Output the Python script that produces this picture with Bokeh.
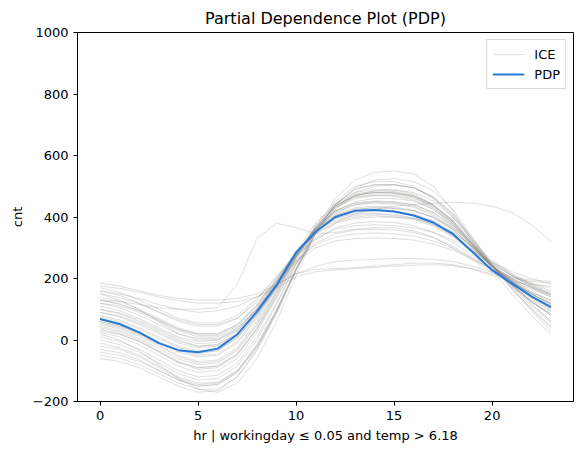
from bokeh.plotting import figure
from bokeh.models import FixedTicker, Range1d, Legend, LegendItem
from bokeh.embed import file_html
from bokeh.resources import INLINE

hours = list(range(24))

pdp = [68, 52, 25, -10, -33, -40, -28, 18, 92, 178, 285, 352, 400, 420, 423, 418, 405, 382, 345, 286, 227, 184, 142, 107]

ice_curves = [
    [20, 0, -35, -80, -125, -160, -170, -140, -60, 60, 210, 350, 450, 500, 515, 515, 500, 460, 400, 320, 240, 180, 120, 60],
    [-50, -60, -80, -110, -140, -160, -160, -120, -30, 90, 230, 360, 460, 520, 545, 550, 540, 500, 420, 320, 230, 150, 80, 20],
    [150, 130, 100, 60, 20, 0, 0, 30, 100, 180, 270, 350, 400, 420, 425, 420, 405, 380, 340, 290, 240, 200, 170, 140],
    [185, 175, 160, 145, 135, 130, 130, 135, 150, 180, 215, 240, 255, 260, 262, 265, 265, 262, 255, 240, 220, 205, 195, 190],
    [130, 125, 115, 105, 100, 100, 105, 180, 330, 380, 365, 345, 350, 360, 365, 365, 355, 335, 300, 260, 220, 185, 155, 130],
    [60, 45, 20, -10, -35, -45, -35, 10, 85, 170, 270, 330, 380, 410, 425, 435, 440, 445, 448, 445, 435, 415, 375, 322],
    [160, 150, 135, 115, 100, 90, 95, 110, 140, 180, 215, 230, 232, 235, 240, 245, 250, 250, 245, 230, 210, 190, 180, 175],
    [100, 85, 60, 30, 0, -20, -15, 20, 95, 185, 290, 380, 440, 465, 470, 468, 455, 425, 375, 305, 240, 190, 150, 120],
    [40, 25, 0, -35, -70, -90, -85, -45, 40, 150, 270, 375, 445, 480, 490, 488, 475, 440, 385, 310, 235, 175, 125, 85],
    [130, 115, 95, 65, 35, 15, 15, 45, 110, 195, 285, 360, 405, 425, 430, 428, 420, 400, 365, 315, 260, 215, 180, 150],
    [-20, -30, -55, -90, -125, -145, -140, -100, -15, 100, 235, 355, 440, 490, 505, 505, 495, 465, 410, 330, 245, 175, 110, 55],
    [75, 60, 35, 5, -25, -40, -35, 5, 80, 175, 280, 365, 420, 445, 450, 448, 440, 415, 370, 305, 240, 190, 145, 110],
    [160, 145, 120, 90, 60, 45, 45, 70, 130, 205, 285, 345, 380, 395, 400, 400, 395, 380, 350, 305, 255, 215, 185, 160],
    [10, -5, -30, -65, -100, -120, -115, -75, 10, 120, 250, 360, 435, 470, 480, 480, 470, 440, 390, 315, 240, 180, 125, 80],
    [110, 95, 70, 40, 10, -5, 0, 35, 105, 190, 280, 350, 390, 405, 410, 405, 395, 375, 340, 295, 250, 210, 175, 145],
    [55, 40, 15, -15, -50, -70, -65, -25, 60, 165, 275, 370, 430, 460, 470, 470, 460, 430, 380, 310, 240, 185, 135, 95],
    [-40, -50, -70, -100, -130, -150, -145, -105, -25, 90, 225, 345, 430, 480, 500, 505, 495, 465, 410, 330, 245, 170, 100, 40],
    [140, 125, 100, 70, 40, 20, 20, 50, 115, 200, 285, 355, 395, 410, 412, 408, 398, 375, 340, 290, 240, 200, 170, 145],
    [90, 75, 50, 20, -10, -25, -20, 15, 90, 180, 280, 360, 410, 430, 435, 432, 422, 398, 360, 300, 240, 195, 155, 125],
    [25, 10, -15, -50, -85, -105, -100, -60, 25, 135, 260, 365, 440, 475, 485, 483, 470, 438, 385, 310, 235, 178, 125, 85],
    [120, 105, 80, 50, 20, 5, 5, 35, 100, 185, 275, 345, 385, 400, 405, 400, 392, 370, 335, 290, 245, 210, 180, 155],
    [60, 45, 20, -10, -40, -55, -50, -10, 70, 170, 275, 360, 415, 440, 445, 442, 432, 405, 360, 298, 238, 190, 150, 115],
    [-60, -70, -90, -120, -150, -170, -165, -120, -35, 85, 225, 350, 440, 495, 520, 525, 515, 485, 425, 335, 245, 165, 95, 30],
    [170, 155, 130, 100, 70, 55, 55, 80, 135, 205, 275, 330, 360, 372, 375, 372, 365, 350, 325, 290, 252, 222, 200, 182],
    [0, -15, -40, -75, -110, -130, -125, -85, 0, 115, 245, 355, 430, 465, 475, 475, 465, 435, 385, 312, 240, 180, 125, 80],
    [80, 65, 40, 10, -20, -35, -30, 8, 82, 175, 275, 355, 405, 425, 430, 428, 420, 398, 360, 300, 240, 192, 150, 118],
    [45, 30, 5, -28, -62, -80, -75, -35, 48, 155, 270, 370, 435, 470, 480, 478, 465, 432, 378, 305, 235, 180, 130, 92],
    [100, 88, 65, 35, 5, -12, -8, 28, 100, 190, 285, 365, 420, 445, 452, 450, 440, 415, 372, 310, 248, 198, 158, 128],
    [-30, -42, -65, -98, -130, -150, -145, -105, -20, 95, 230, 350, 440, 490, 505, 505, 495, 462, 405, 325, 240, 168, 102, 45],
    [130, 118, 95, 65, 35, 20, 20, 50, 112, 195, 280, 350, 395, 415, 420, 418, 410, 388, 352, 302, 252, 210, 175, 148],
    [35, 20, -5, -40, -75, -95, -90, -50, 35, 145, 265, 365, 435, 470, 480, 478, 468, 438, 388, 318, 245, 190, 140, 102],
    [65, 50, 25, -5, -35, -50, -45, -5, 75, 170, 275, 360, 415, 440, 448, 445, 435, 410, 365, 302, 240, 192, 150, 118],
    [120, 110, 90, 60, 30, 10, 10, 40, 100, 180, 260, 310, 335, 345, 348, 345, 338, 322, 298, 265, 228, 198, 172, 150],
    [90, 78, 55, 25, -5, -20, -15, 20, 85, 170, 255, 315, 345, 358, 360, 358, 350, 332, 305, 268, 228, 195, 165, 140],
    [150, 138, 118, 92, 65, 50, 50, 72, 122, 190, 255, 300, 322, 330, 332, 330, 325, 312, 292, 262, 230, 205, 185, 168],
    [30, 18, -5, -38, -72, -90, -85, -45, 35, 140, 250, 325, 365, 380, 385, 382, 372, 350, 318, 275, 230, 190, 150, 115],
    [175, 168, 155, 140, 128, 120, 120, 125, 140, 170, 205, 222, 228, 232, 236, 240, 243, 245, 242, 232, 215, 200, 190, 185],
    [-10, -25, -50, -85, -120, -140, -138, -100, -20, 95, 230, 345, 425, 470, 485, 488, 480, 452, 400, 325, 245, 178, 115, 62],
    [50, 36, 12, -20, -55, -75, -70, -30, 52, 158, 272, 362, 420, 450, 460, 460, 452, 425, 378, 310, 240, 186, 138, 100],
]

x_ticks = [0, 5, 10, 15, 20]
y_ticks = [-200, 0, 200, 400, 600, 800, 1000]

FONT = "DejaVu Sans"

p = figure(width=583, height=455, output_backend="svg", toolbar_location=None,
           title="Partial Dependence Plot (PDP)",
           x_range=Range1d(-1.15, 24.15), y_range=Range1d(-200, 1000),
           min_border_left=77, min_border_right=10, min_border_top=32, min_border_bottom=54)

p.title.text_font = FONT
p.title.text_font_size = "16px"
p.title.text_font_style = "normal"
p.title.align = "center"
p.title.text_color = "black"

p.xgrid.visible = False
p.ygrid.visible = False
p.outline_line_color = "black"
p.outline_line_alpha = 1
p.outline_line_width = 1
p.background_fill_color = "white"
p.border_fill_color = "white"

for ax in (p.xaxis[0], p.yaxis[0]):
    ax.axis_line_color = "black"
    ax.major_tick_line_color = "black"
    ax.major_tick_out = 4
    ax.major_tick_in = 0
    ax.minor_tick_line_color = None
    ax.major_label_text_font = FONT
    ax.major_label_text_font_size = "13px"
    ax.major_label_text_color = "black"
    ax.axis_label_text_font = FONT
    ax.axis_label_text_font_size = "13px"
    ax.axis_label_text_font_style = "normal"
    ax.axis_label_text_color = "black"

p.xaxis.ticker = FixedTicker(ticks=x_ticks)
p.yaxis.ticker = FixedTicker(ticks=y_ticks)
p.xaxis.axis_label = "hr | workingday ≤ 0.05 and temp > 6.18"
p.yaxis.axis_label = "cnt"

ice = p.multi_line(xs=[hours] * len(ice_curves), ys=ice_curves,
                   line_color="#7f7f7a", line_alpha=0.25, line_width=1,
                   line_join="round")
pdp_r = p.line(hours, pdp, line_color="#2878d8", line_width=2, line_join="round")

legend = Legend(items=[LegendItem(label="ICE", renderers=[ice]),
                       LegendItem(label="PDP", renderers=[pdp_r])],
                location="top_right")
legend.label_text_font = FONT
legend.label_text_font_size = "13px"
legend.label_text_color = "black"
legend.label_height = 18
legend.glyph_height = 18
legend.border_line_color = "#d9d9d9"
legend.border_line_alpha = 1
legend.glyph_width = 32
legend.label_standoff = 10
legend.spacing = 2
legend.padding = 5
legend.margin = 7
legend.background_fill_alpha = 0.8
p.add_layout(legend)

open("out.html", "w").write(file_html(p, INLINE))
